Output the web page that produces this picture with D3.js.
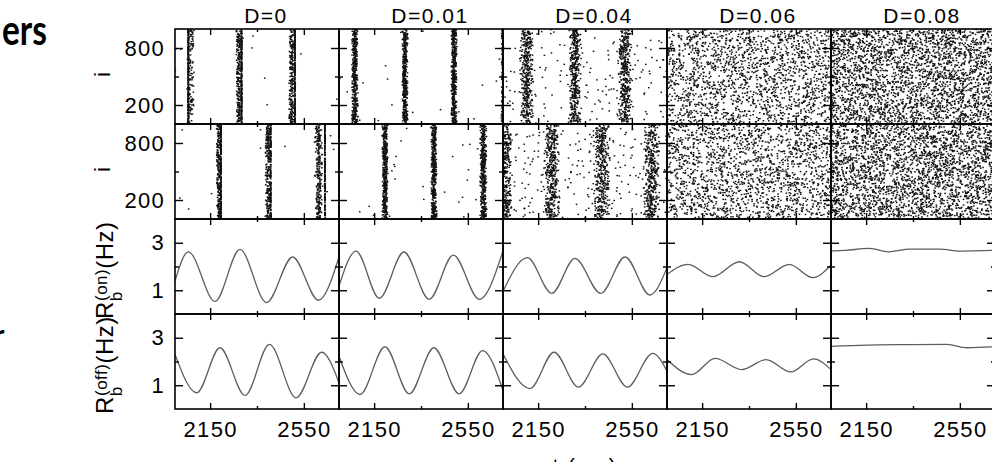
<!DOCTYPE html>
<html>
<head>
<meta charset="utf-8">
<script src="https://cdn.jsdelivr.net/npm/d3@7"></script>
<style>
  body { margin: 0; background: #fff; }
  svg { display: block; font-family: "Liberation Sans", Arial, sans-serif; }
</style>
</head>
<body>
<svg width="992" height="462"></svg>
<script>
var columns = ['D=0', 'D=0.01', 'D=0.04', 'D=0.06', 'D=0.08'];

var timeRange = [2000, 2700];
var timeTicks = [2150, 2550];
var timeMinor = [2350];
var neuronRange = [0, 1000];
var neuronTicks = [200, 800];
var neuronMinor = [500];
var rateRange = [0, 4];
var rateTicks = [1, 3];
var rateMinor = [2];

// bursts per column: [time (ms), half width (ms), spikes]
var burstsOn = [
  [[2057, 1.5, 250], [2066, 16, 120], [2284, 1.5, 220], [2272, 12, 220], [2512, 1.5, 200], [2498, 12, 220]],
  [[2068, 14, 440], [2282, 13, 440], [2491, 13, 440], [2700, 8, 200]],
  [[2101, 30, 400], [2307, 28, 400], [2521, 30, 400]],
  [],
  []
];
var burstsOff = [
  [[2196, 1.5, 220], [2187, 10, 220], [2408, 1.5, 200], [2397, 12, 220], [2640, 1.5, 200], [2613, 18, 260]],
  [[2196, 13, 440], [2405, 13, 440], [2616, 15, 440]],
  [[2010, 30, 330], [2208, 36, 400], [2421, 38, 400], [2635, 36, 400]],
  [],
  []
];
// spikes outside bursts
var scatterOn = [12, 20, 170, 1800, 2800];
var scatterOff = [10, 25, 240, 1800, 2800];

// population burst rate [time, Hz]
var rateOn = [
  [[2000, 1.39], [2057, 2.62], [2171, 0.53], [2277, 2.72], [2391, 0.48], [2502, 2.40], [2612, 0.58], [2700, 2.40]],
  [[2000, 1.18], [2073, 2.65], [2172, 0.66], [2277, 2.61], [2385, 0.62], [2488, 2.48], [2599, 0.62], [2700, 2.65]],
  [[2000, 0.95], [2104, 2.37], [2208, 0.87], [2307, 2.34], [2417, 0.87], [2521, 2.40], [2627, 0.80], [2700, 1.95]],
  [[2000, 1.67], [2090, 2.09], [2195, 1.57], [2309, 2.20], [2414, 1.57], [2522, 2.09], [2622, 1.53], [2700, 2.06]],
  [[2000, 2.65], [2060, 2.68], [2166, 2.76], [2245, 2.62], [2337, 2.73], [2465, 2.73], [2551, 2.65], [2700, 2.68]]
];
var rateOff = [
  [[2000, 2.30], [2093, 0.68], [2192, 2.58], [2299, 0.57], [2403, 2.72], [2517, 0.47], [2626, 2.39], [2700, 1.10]],
  [[2000, 2.22], [2090, 0.61], [2196, 2.62], [2300, 0.64], [2405, 2.58], [2513, 0.64], [2613, 2.46], [2700, 0.78]],
  [[2000, 2.32], [2115, 0.86], [2218, 2.39], [2322, 0.92], [2426, 2.32], [2531, 0.92], [2639, 2.34], [2700, 1.59]],
  [[2000, 2.08], [2105, 1.45], [2205, 2.13], [2319, 1.66], [2423, 2.08], [2528, 1.56], [2625, 2.11], [2700, 1.66]],
  [[2000, 2.64], [2152, 2.69], [2300, 2.71], [2494, 2.72], [2580, 2.58], [2700, 2.62]]
];

var W = 164, H = 95, X0 = 175, Y0 = 29;
var svg = d3.select('svg');

var x = d3.scaleLinear().domain(timeRange).range([0, W]);
var yN = d3.scaleLinear().domain(neuronRange).range([H, 0]);
var yR = d3.scaleLinear().domain(rateRange).range([H, 0]);

svg.append('rect').attr('width', 992).attr('height', 462).attr('fill', '#fff');
svg.append('defs').append('clipPath').attr('id', 'clip')
  .append('rect').attr('width', W).attr('height', H);

// fixed integer hash -> [0,1), only used to lay the spike dots out
// inside the burst / background densities
var spread01 = function(n) {
  var h = Math.imul(n, 0x9e3779b1) ^ 0x5bd1e995;
  h ^= h >>> 16;
  h = Math.imul(h, 0x85ebca6b);
  h ^= h >>> 13;
  h = Math.imul(h, 0xc2b2ae35);
  h ^= h >>> 16;
  return (h >>> 0) / 4294967296;
};

var spikes = function(bursts, scatter, seed) {
  var pts = [];
  bursts.forEach(function(b, j) {
    for (var k = 0; k < b[2]; k++) {
      var n = (seed + j * 1009 + k) * 3;
      pts.push([b[0] + b[1] * (spread01(n) + spread01(n + 1) - 1),
                neuronRange[1] * spread01(n + 2)]);
    }
  });
  for (var k = 0; k < scatter; k++) {
    var n = (seed + 50021 + k) * 3;
    pts.push([timeRange[0] + spread01(n) * (timeRange[1] - timeRange[0]),
              neuronRange[1] * spread01(n + 1)]);
  }
  return pts;
};

var rows = [
  {type: 'raster', bursts: burstsOn, scatter: scatterOn},
  {type: 'raster', bursts: burstsOff, scatter: scatterOff},
  {type: 'rate', data: rateOn},
  {type: 'rate', data: rateOff}
];

var line = d3.line()
  .x(function(d) { return x(d[0]); })
  .y(function(d) { return yR(d[1]); })
  .curve(d3.curveMonotoneX);

var noLabel = function() { return ''; };

var styleAxis = function(g) {
  g.select('.domain').remove();
  g.selectAll('line').attr('stroke', '#000').attr('stroke-width', 1.4);
  g.selectAll('text')
    .style('font-size', '22px')
    .style('font-family', '"Liberation Sans", Arial, sans-serif')
    .style('letter-spacing', '1.3px')
    .attr('fill', '#000');
};

rows.forEach(function(row, r) {
  columns.forEach(function(col, c) {
    var g = svg.append('g')
      .attr('transform', 'translate(' + (X0 + c * W) + ',' + (Y0 + r * H) + ')');
    var marks = g.append('g').attr('clip-path', 'url(#clip)');
    var y = row.type === 'raster' ? yN : yR;

    if (row.type === 'raster') {
      var pts = spikes(row.bursts[c], row.scatter[c], r * 200011 + c * 51131 + 7);
      marks.selectAll('rect')
        .data(pts)
        .enter()
        .append('rect')
        .attr('x', function(d) { return x(d[0]) - 0.8; })
        .attr('y', function(d) { return yN(d[1]) - 0.7; })
        .attr('width', 1.6)
        .attr('height', 1.4)
        .attr('fill', '#111');
    } else {
      marks.append('path')
        .datum(row.data[c])
        .attr('d', line)
        .attr('fill', 'none')
        .attr('stroke', '#5e5e5e')
        .attr('stroke-width', 1.3);
    }

    var yTicks = row.type === 'raster' ? neuronTicks : rateTicks;
    var yMinor = row.type === 'raster' ? neuronMinor : rateMinor;

    g.append('g').attr('transform', 'translate(0,' + H + ')')
      .call(d3.axisBottom(x).tickValues(timeTicks).tickSizeInner(-6).tickSizeOuter(0)
        .tickPadding(12).tickFormat(r === rows.length - 1 ? d3.format('d') : noLabel))
      .call(styleAxis);
    g.append('g').attr('transform', 'translate(0,' + H + ')')
      .call(d3.axisBottom(x).tickValues(timeMinor).tickSizeInner(-3).tickSizeOuter(0).tickFormat(noLabel))
      .call(styleAxis);
    g.append('g')
      .call(d3.axisTop(x).tickValues(timeTicks).tickSizeInner(-6).tickSizeOuter(0).tickFormat(noLabel))
      .call(styleAxis);
    g.append('g')
      .call(d3.axisTop(x).tickValues(timeMinor).tickSizeInner(-3).tickSizeOuter(0).tickFormat(noLabel))
      .call(styleAxis);

    g.append('g')
      .call(d3.axisLeft(y).tickValues(yTicks).tickSizeInner(-8).tickSizeOuter(0)
        .tickPadding(10).tickFormat(c === 0 ? d3.format('d') : noLabel))
      .call(styleAxis);
    g.append('g')
      .call(d3.axisLeft(y).tickValues(yMinor).tickSizeInner(-4).tickSizeOuter(0).tickFormat(noLabel))
      .call(styleAxis);
    g.append('g').attr('transform', 'translate(' + W + ',0)')
      .call(d3.axisRight(y).tickValues(yTicks).tickSizeInner(-8).tickSizeOuter(0).tickFormat(noLabel))
      .call(styleAxis);
    g.append('g').attr('transform', 'translate(' + W + ',0)')
      .call(d3.axisRight(y).tickValues(yMinor).tickSizeInner(-4).tickSizeOuter(0).tickFormat(noLabel))
      .call(styleAxis);
  });
});

// panel frames
rows.forEach(function(row, r) {
  svg.selectAll('.frame' + r)
    .data(columns)
    .enter()
    .append('rect')
    .attr('x', function(d, c) { return X0 + c * W; })
    .attr('y', Y0 + r * H)
    .attr('width', W)
    .attr('height', H)
    .attr('fill', 'none')
    .attr('stroke', '#000')
    .attr('stroke-width', 1.6);
});

// column titles
svg.selectAll('.title')
  .data(columns)
  .enter()
  .append('text')
  .attr('class', 'title')
  .attr('x', function(d, c) { return X0 + c * W + W / 2 + 9; })
  .attr('y', 23)
  .attr('text-anchor', 'middle')
  .style('font-size', '21px')
  .style('letter-spacing', '1.5px')
  .text(function(d) { return d; });

// y labels
[0, 1].forEach(function(r) {
  svg.append('text')
    .attr('transform', 'translate(110,' + (Y0 + r * H + H / 2 - 2) + ') rotate(-90)')
    .attr('text-anchor', 'middle')
    .style('font-size', '22px')
    .text('i');
});

var rateLabel = function(r, sup) {
  var t = svg.append('text')
    .attr('transform', 'translate(113,' + (Y0 + r * H + H + 5) + ') rotate(-90)')
    .style('font-size', '24px')
    .style('letter-spacing', '0.5px');
  t.append('tspan').text('R');
  t.append('tspan').attr('dy', 9).style('font-size', '17px').text('b');
  t.append('tspan').attr('dx', -9.8).attr('dy', -15).style('font-size', '17px').text(sup);
  t.append('tspan').attr('dy', 6).text('(Hz)');
};
rateLabel(2, '(on)');
rateLabel(3, '(off)');

// x label (cut by the image edge)
svg.append('text')
  .attr('x', 585)
  .attr('y', 474)
  .attr('text-anchor', 'middle')
  .style('font-size', '22px')
  .style('letter-spacing', '1.5px')
  .text('t (ms)');

// fragments of surrounding slide text
svg.append('text')
  .attr('x', 2)
  .attr('y', 45)
  .attr('textLength', 45)
  .attr('lengthAdjust', 'spacingAndGlyphs')
  .style('font-family', 'Lato, "Open Sans", sans-serif')
  .style('font-weight', 'bold')
  .style('font-size', '42px')
  .text('ers');
svg.append('text')
  .attr('x', -6)
  .attr('y', 345)
  .style('font-family', 'Lato, "Open Sans", sans-serif')
  .style('font-weight', 'bold')
  .style('font-size', '28px')
  .text('r');
</script>
</body>
</html>
